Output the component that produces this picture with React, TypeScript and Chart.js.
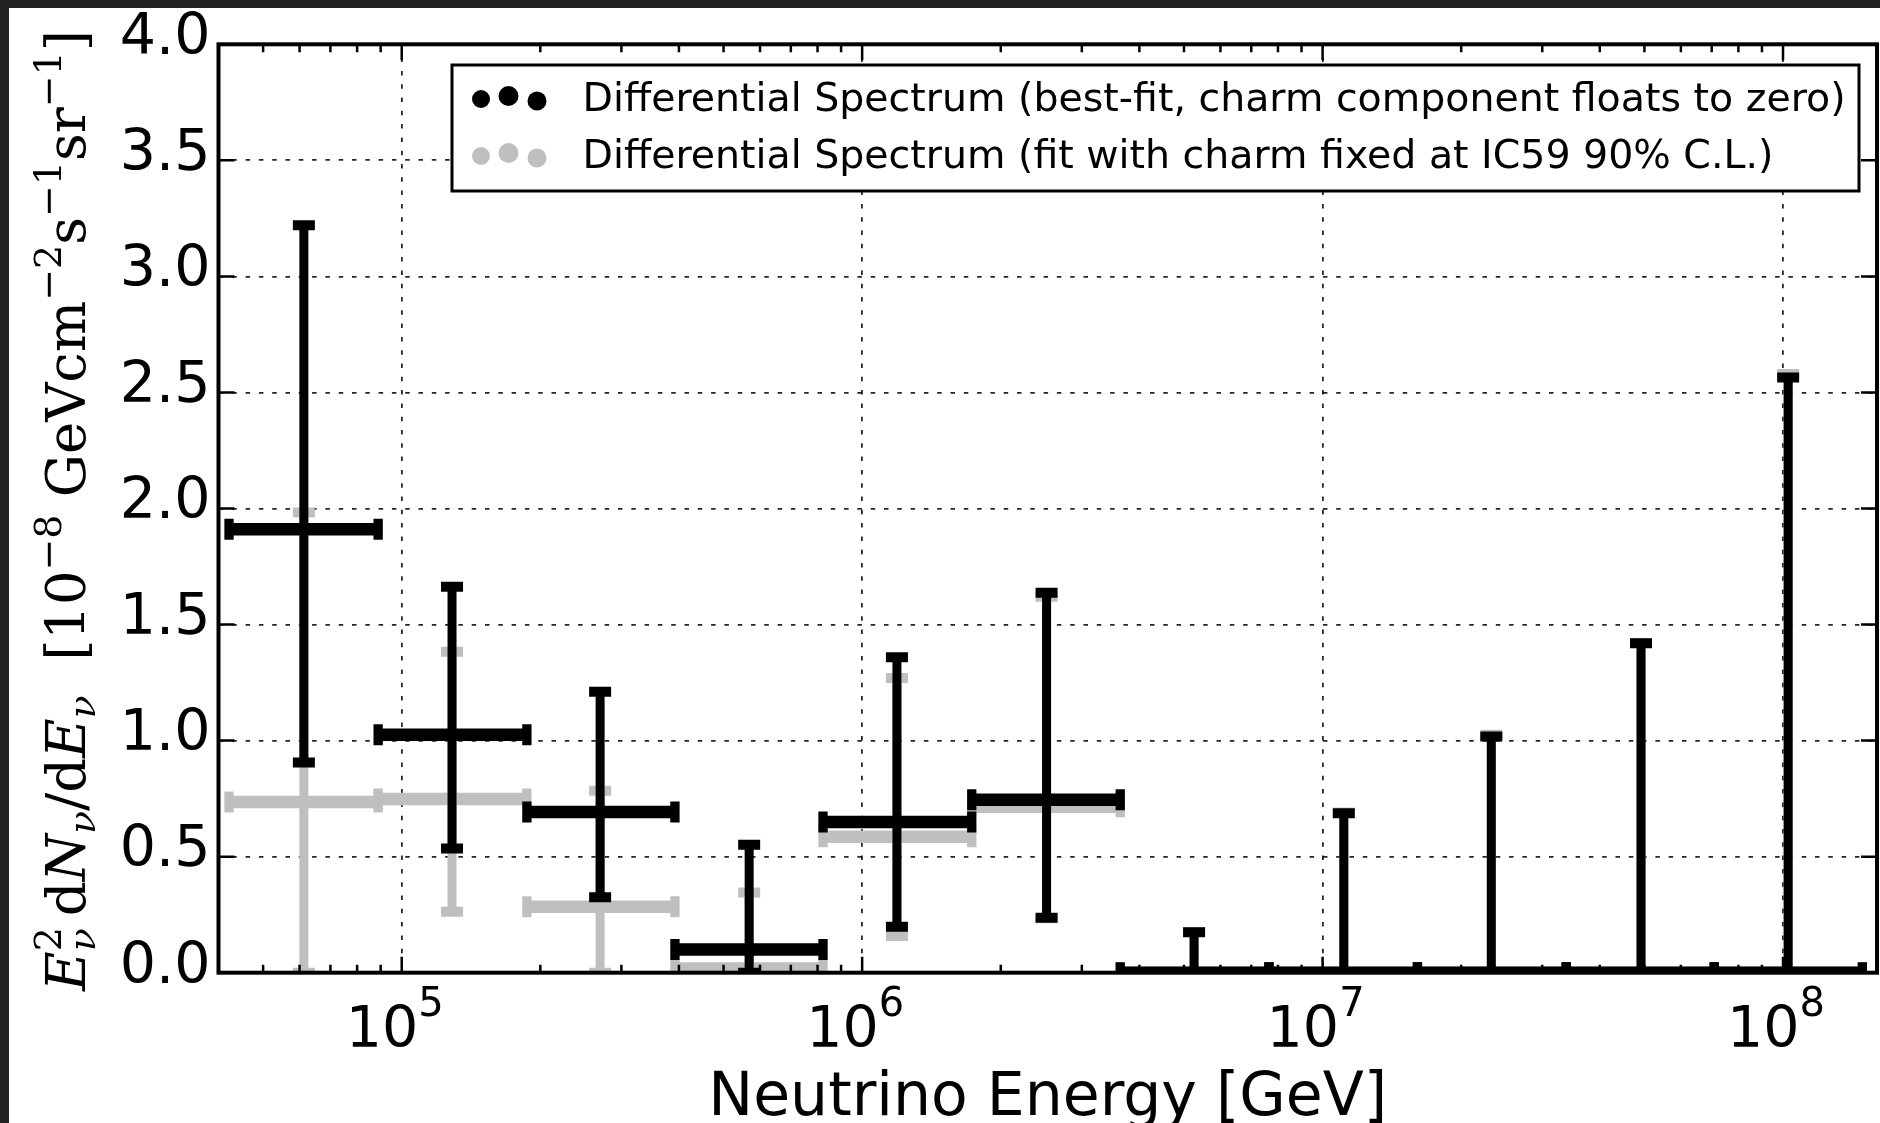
import React, { useEffect, useRef } from 'react';
import { Chart, registerables } from 'chart.js';

Chart.register(...registerables);

// ---------------- data ----------------
const binEdges = [4.216e4, 8.888e4, 1.87e5, 3.921e5, 8.222e5, 1.73e6, 3.635e6, 7.647e6, 1.607e7, 3.382e7, 7.09e7, 1.487e8];
const binCenters = [6.13e4, 1.286e5, 2.697e5, 5.683e5, 1.19e6, 2.515e6, 5.259e6, 1.112e7, 2.325e7, 4.916e7, 1.026e8];

const bestFitValues = [1.911, 1.025, 0.692, 0.1, 0.649, 0.745, 0, 0, 0, 0, 0];
const bestFitLower = [0.906, 0.535, 0.325, 0, 0.198, 0.237, 0, 0, 0, 0, 0];
const bestFitUpper = [3.22, 1.663, 1.21, 0.551, 1.359, 1.637, 0.174, 0.687, 1.018, 1.419, 2.564];

const charmValues = [0.735, 0.748, 0.284, 0.018, 0.586, 0.715, 0, 0, 0, 0, 0];
const charmLower = [0, 0.263, 0, 0, 0.158, 0.235, 0, 0, 0, 0, 0];
const charmUpper = [1.983, 1.383, 0.784, 0.346, 1.27, 1.62, 0.175, 0.69, 1.025, 1.42, 2.58];

const xTickValues = [1e5, 1e6, 1e7, 1e8];
const yTickValues = [0, 0.5, 1, 1.5, 2, 2.5, 3, 3.5, 4];

const legendLabels = [
  'Differential Spectrum (best-fit, charm component floats to zero)',
  'Differential Spectrum (fit with charm fixed at IC59 90% C.L.)',
];
const xAxisLabel = 'Neutrino Energy [GeV]';

const BLACK = '#000000';
const GRAY = '#bfbfbf';

// ---------------- dataset builders ----------------
function errorBarDatasets(values: number[], lower: number[], upper: number[], color: string, order: number, label: string) {
  const vert: any[] = [];
  const horiz: any[] = [];
  const vcaps: any[] = [];
  const hcaps: any[] = [];
  const pts: any[] = [];
  binCenters.forEach((c, i) => {
    vert.push({ x: c, y: lower[i] }, { x: c, y: upper[i] }, { x: c, y: null });
    horiz.push({ x: binEdges[i], y: values[i] }, { x: binEdges[i + 1], y: values[i] }, { x: binEdges[i + 1], y: null });
    vcaps.push({ x: c, y: lower[i] }, { x: c, y: upper[i] });
    hcaps.push({ x: binEdges[i], y: values[i] }, { x: binEdges[i + 1], y: values[i] });
    pts.push({ x: c, y: values[i] });
  });
  const common = { order, clip: 0, spanGaps: false, fill: false, tension: 0 };
  return [
    { ...common, type: 'line', label: label + ' (vertical)', data: vert, borderColor: color, borderWidth: 9, pointRadius: 0 },
    { ...common, type: 'line', label: label + ' (horizontal)', data: horiz, borderColor: color, borderWidth: 12.5, pointRadius: 0 },
    {
      ...common, type: 'line', label: label + ' (caps v)', data: vcaps, showLine: false,
      pointStyle: 'line', pointRadius: 11, pointBorderWidth: 10, pointBorderColor: color, pointRotation: 0,
    },
    {
      ...common, type: 'line', label: label + ' (caps h)', data: hcaps, showLine: false,
      pointStyle: 'line', pointRadius: 10.5, pointBorderWidth: 9.3, pointBorderColor: color, pointRotation: 90,
    },
    {
      ...common, type: 'line', label, data: pts, showLine: false,
      pointStyle: 'circle', pointRadius: 6.5, pointBorderWidth: 0, pointBackgroundColor: color, pointBorderColor: color,
    },
  ];
}

// ---------------- custom drawing ----------------
type Part = { t: string; it?: boolean; s: number; dy: number };

function drawYLabel(ctx: CanvasRenderingContext2D, cx: number, cy: number, targetLen: number) {
  const groups: Part[][] = [
    [{ t: 'E', it: true, s: 1, dy: 0 }],
    [{ t: '2', s: 0.7, dy: -0.44 }, { t: 'ν', it: true, s: 0.7, dy: 0.18 }],
    [{ t: '\u2009d', s: 1, dy: 0 }],
    [{ t: 'N', it: true, s: 1, dy: 0 }],
    [{ t: 'ν', it: true, s: 0.7, dy: 0.18 }],
    [{ t: '/d', s: 1, dy: 0 }],
    [{ t: 'E', it: true, s: 1, dy: 0 }],
    [{ t: 'ν', it: true, s: 0.7, dy: 0.18 }],
    [{ t: '  [10', s: 1, dy: 0 }],
    [{ t: '−8', s: 0.7, dy: -0.44 }],
    [{ t: ' GeVcm', s: 1, dy: 0 }],
    [{ t: '−2', s: 0.7, dy: -0.44 }],
    [{ t: 's', s: 1, dy: 0 }],
    [{ t: '−1', s: 0.7, dy: -0.44 }],
    [{ t: 'sr', s: 1, dy: 0 }],
    [{ t: '−1', s: 0.7, dy: -0.44 }],
    [{ t: ']', s: 1, dy: 0 }],
  ];
  const font = (p: Part, size: number) => `${p.it ? 'italic ' : ''}${(size * p.s).toFixed(2)}px "DejaVu Serif"`;
  const measure = (size: number) =>
    groups.reduce((acc, g) => acc + Math.max(...g.map((p) => { ctx.font = font(p, size); return ctx.measureText(p.t).width; })), 0);
  const base = 60;
  const size = (base * targetLen) / measure(base);
  const total = measure(size);
  ctx.save();
  ctx.translate(cx, cy);
  ctx.rotate(-Math.PI / 2);
  ctx.textAlign = 'left';
  ctx.textBaseline = 'alphabetic';
  ctx.fillStyle = '#000';
  let x = -total / 2;
  for (const g of groups) {
    let adv = 0;
    for (const p of g) {
      ctx.font = font(p, size);
      ctx.fillText(p.t, x, p.dy * size);
      adv = Math.max(adv, ctx.measureText(p.t).width);
    }
    x += adv;
  }
  ctx.restore();
}

const decorPlugin = {
  id: 'decor',
  beforeDraw(chart: any) {
    const { ctx } = chart;
    ctx.save();
    ctx.fillStyle = '#ffffff';
    ctx.fillRect(0, 0, chart.width, chart.height);
    ctx.fillStyle = '#222222';
    ctx.fillRect(0, 0, chart.width, 8);
    ctx.fillRect(0, 0, 9, chart.height);
    ctx.restore();
  },
  afterDraw(chart: any) {
    const { ctx, chartArea: a, scales } = chart;
    const xs = scales.x;
    const ys = scales.y;
    ctx.save();

    // inward tick marks on all four sides
    ctx.strokeStyle = '#000';
    ctx.lineWidth = 2.5;
    ctx.beginPath();
    for (const v of xTickValues) {
      const px = xs.getPixelForValue(v);
      ctx.moveTo(px, a.bottom); ctx.lineTo(px, a.bottom - 16);
      ctx.moveTo(px, a.top); ctx.lineTo(px, a.top + 16);
    }
    for (let e = 4; e <= 8; e++) {
      for (let m = 2; m <= 9; m++) {
        const v = m * Math.pow(10, e);
        if (v <= xs.min || v >= xs.max) continue;
        const px = xs.getPixelForValue(v);
        ctx.moveTo(px, a.bottom); ctx.lineTo(px, a.bottom - 8);
        ctx.moveTo(px, a.top); ctx.lineTo(px, a.top + 8);
      }
    }
    for (const v of yTickValues) {
      const py = ys.getPixelForValue(v);
      ctx.moveTo(a.left, py); ctx.lineTo(a.left + 16, py);
      ctx.moveTo(a.right, py); ctx.lineTo(a.right - 16, py);
    }
    ctx.stroke();

    // frame
    ctx.lineWidth = 4;
    ctx.strokeRect(a.left, a.top, a.right - a.left, a.bottom - a.top);

    // x tick labels (10^k)
    ctx.fillStyle = '#000';
    ctx.textAlign = 'left';
    ctx.textBaseline = 'alphabetic';
    for (const v of xTickValues) {
      const px = xs.getPixelForValue(v);
      const exp = String(Math.round(Math.log10(v)));
      ctx.font = '57px "DejaVu Sans"';
      const w1 = ctx.measureText('10').width;
      ctx.font = '40px "DejaVu Sans"';
      const w2 = ctx.measureText(exp).width;
      const start = px - (w1 + w2) / 2 - 7;
      ctx.font = '57px "DejaVu Sans"';
      ctx.fillText('10', start, 1047);
      ctx.font = '40px "DejaVu Sans"';
      ctx.fillText(exp, start + w1, 1015.5);
    }

    // x axis label
    ctx.font = '60px "DejaVu Sans"';
    ctx.textAlign = 'center';
    ctx.fillText(xAxisLabel, (a.left + a.right) / 2, 1115);

    // y axis label
    drawYLabel(ctx, 85, 510.5, 961);

    // legend
    const lx0 = 452, ly0 = 65, lx1 = 1859, ly1 = 191;
    ctx.fillStyle = '#fff';
    ctx.fillRect(lx0, ly0, lx1 - lx0, ly1 - ly0);
    ctx.strokeStyle = '#000';
    ctx.lineWidth = 3;
    ctx.strokeRect(lx0, ly0, lx1 - lx0, ly1 - ly0);
    const colors = [BLACK, GRAY];
    const rowDotY = [99, 156];
    const rowBase = [110.7, 167.5];
    const dotX = [481, 508.5, 537];
    const dotR = [9, 10, 9.5];
    const dotDy = [0, -3, 2];
    ctx.font = '40px "DejaVu Sans"';
    const fitSize = (40 * 1263) / ctx.measureText(legendLabels[0]).width;
    for (let r = 0; r < 2; r++) {
      ctx.fillStyle = colors[r];
      for (let k = 0; k < 3; k++) {
        ctx.beginPath();
        ctx.arc(dotX[k], rowDotY[r] + dotDy[k], dotR[k], 0, Math.PI * 2);
        ctx.fill();
      }
      ctx.fillStyle = '#000';
      ctx.textAlign = 'left';
      ctx.font = `${fitSize.toFixed(2)}px "DejaVu Sans"`;
      ctx.fillText(legendLabels[r], 582.6, rowBase[r]);
    }
    ctx.restore();
  },
};

export default function App() {
  const ref = useRef<HTMLCanvasElement>(null);
  useEffect(() => {
    document.body.style.margin = '0';
    const gridStyle = { color: 'rgba(0,0,0,0.85)', lineWidth: 1.8, drawTicks: false };
    const borderStyle = { display: false, dash: [4.5, 8.8] };
    const chart = new Chart(ref.current as HTMLCanvasElement, {
      type: 'line',
      data: {
        datasets: [
          ...errorBarDatasets(bestFitValues, bestFitLower, bestFitUpper, BLACK, 0, legendLabels[0]),
          ...errorBarDatasets(charmValues, charmLower, charmUpper, GRAY, 1, legendLabels[1]),
        ] as any,
      },
      options: {
        responsive: false,
        animation: false,
        devicePixelRatio: 1,
        events: [],
        layout: { autoPadding: false, padding: { left: 0, top: 44.3, right: 3, bottom: 0 } },
        plugins: { legend: { display: false }, tooltip: { enabled: false } },
        scales: {
          x: {
            type: 'logarithmic',
            min: 4e4,
            max: 1.6e8,
            afterBuildTicks: (s: any) => { s.ticks = xTickValues.map((v) => ({ value: v })); },
            afterFit: (s: any) => { s.height = 150.3; },
            ticks: { display: false },
            grid: gridStyle,
            border: borderStyle,
          },
          y: {
            type: 'linear',
            min: 0,
            max: 4,
            afterBuildTicks: (s: any) => { s.ticks = yTickValues.map((v) => ({ value: v })); },
            afterFit: (s: any) => { s.width = 218.5; },
            ticks: {
              font: { family: 'DejaVu Sans', size: 57 },
              color: '#000',
              padding: 8,
              labelOffset: -5,
              callback: (v: any) => Number(v).toFixed(1),
            },
            grid: gridStyle,
            border: borderStyle,
          },
        },
      } as any,
      plugins: [decorPlugin],
    });
    return () => chart.destroy();
  }, []);
  return (
    <div style={{ position: 'absolute', left: 0, top: 0, width: 1880, height: 1123, overflow: 'hidden', background: '#fff' }}>
      <canvas ref={ref} width={1880} height={1123} style={{ display: 'block', width: 1880, height: 1123 }} />
    </div>
  );
}
